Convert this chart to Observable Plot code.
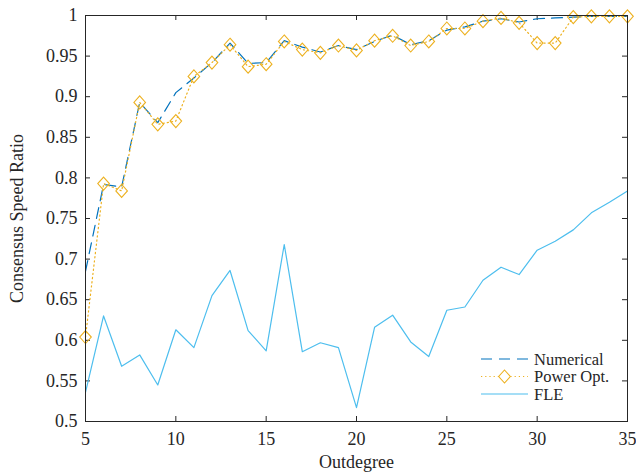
<!DOCTYPE html>
<html>
<head>
<meta charset="utf-8">
<script src="https://cdn.jsdelivr.net/npm/d3@7"></script>
<script src="https://cdn.jsdelivr.net/npm/@observablehq/plot@0.6"></script>
<style>
  html, body { margin: 0; padding: 0; background: white; }
  #wrap { position: relative; width: 636px; height: 472px; font-family: "Liberation Serif", "Times New Roman", serif; }
  #legend { position: absolute; left: 470px; top: 345px; }
</style>
</head>
<body>
<div id="wrap"></div>
<script>
const outdegree = [5,6,7,8,9,10,11,12,13,14,15,16,17,18,19,20,21,22,23,24,25,26,27,28,29,30,31,32,33,34,35];
const numerical = [0.685,0.792,0.789,0.893,0.868,0.905,0.923,0.942,0.966,0.941,0.942,0.969,0.961,0.955,0.963,0.958,0.968,0.976,0.964,0.969,0.982,0.986,0.993,0.996,0.992,0.996,0.997,0.998,0.999,0.999,0.999];
const powerOpt = [0.604,0.793,0.784,0.893,0.866,0.870,0.925,0.942,0.964,0.937,0.940,0.968,0.958,0.954,0.963,0.957,0.969,0.975,0.963,0.968,0.984,0.984,0.993,0.997,0.991,0.966,0.966,0.998,0.999,0.999,0.999];
const fle = [0.536,0.630,0.568,0.582,0.545,0.613,0.591,0.655,0.686,0.612,0.587,0.718,0.586,0.597,0.591,0.517,0.616,0.631,0.598,0.580,0.637,0.641,0.674,0.690,0.681,0.711,0.722,0.736,0.757,0.770,0.784];
const seriesNames = ["Numerical", "Power Opt.", "FLE"];
const xTicks = [5,10,15,20,25,30,35];
const yTicks = [0.5,0.55,0.6,0.65,0.7,0.75,0.8,0.85,0.9,0.95,1];

const colors = {num: "#0072BD", pow: "#EDB120", fle: "#4DBEEE"};
const axisColor = "#262626";

const W = 636, H = 472, mL = 85, mR = 9, mT = 15, mB = 51;
const frameW = W - mL - mR, frameH = H - mT - mB, tick = 5;

const rows = (ys) => outdegree.map((x, i) => ({x, y: ys[i]}));

const diamond = {
  draw(context, size) {
    const r = Math.sqrt(size / Math.PI);
    context.moveTo(0, -r * 1.12);
    context.lineTo(r, 0);
    context.lineTo(0, r * 1.12);
    context.lineTo(-r, 0);
    context.closePath();
  }
};

const chart = Plot.plot({
  width: W, height: H,
  marginLeft: mL, marginRight: mR, marginTop: mT, marginBottom: mB,
  style: {fontFamily: "Liberation Serif, Times New Roman, serif", fontSize: "18px", color: axisColor, background: "white"},
  x: {domain: [5, 35]},
  y: {domain: [0.5, 1]},
  marks: [
    Plot.ruleX(xTicks, {x: d => d, insetTop: frameH - tick, stroke: axisColor}),
    Plot.ruleX(xTicks, {x: d => d, insetBottom: frameH - tick, stroke: axisColor}),
    Plot.ruleY(yTicks, {y: d => d, insetRight: frameW - tick, stroke: axisColor}),
    Plot.ruleY(yTicks, {y: d => d, insetLeft: frameW - tick, stroke: axisColor}),
    Plot.axisX(xTicks, {tickSize: 0, tickPadding: 11, fontSize: 18, label: "Outdegree", labelAnchor: "center", labelArrow: "none", labelOffset: 46, tickFormat: d => String(d)}),
    Plot.axisY(yTicks, {tickSize: 0, tickPadding: 8, fontSize: 18, label: "Consensus Speed Ratio", labelAnchor: "center", labelArrow: "none", labelOffset: 75, tickFormat: d => String(d)}),
    Plot.line(rows(numerical), {x: "x", y: "y", stroke: colors.num, strokeWidth: 1.2, strokeDasharray: "11,7"}),
    Plot.line(rows(powerOpt), {x: "x", y: "y", stroke: colors.pow, strokeWidth: 1.2, strokeDasharray: "1.2,3"}),
    Plot.dot(rows(powerOpt), {x: "x", y: "y", stroke: colors.pow, fill: "none", strokeWidth: 1.1, r: 5.8, symbol: diamond}),
    Plot.line(rows(fle), {x: "x", y: "y", stroke: colors.fle, strokeWidth: 1.2}),
    Plot.frame({stroke: axisColor, strokeWidth: 1})
  ]
});

const wrap = document.getElementById("wrap");
wrap.appendChild(chart);

// Legend (inside plot area, bottom right, no box)
const ns = "http://www.w3.org/2000/svg";
const lg = document.createElementNS(ns, "svg");
lg.setAttribute("id", "legend");
lg.setAttribute("width", 160);
lg.setAttribute("height", 62);
const styles = [
  {stroke: colors.num, dash: "11,7", marker: false},
  {stroke: colors.pow, dash: "1.2,3", marker: true},
  {stroke: colors.fle, dash: null, marker: false}
];
seriesNames.forEach((name, i) => {
  const cy = 14 + i * 17.5;
  const s = styles[i];
  const line = document.createElementNS(ns, "line");
  line.setAttribute("x1", 11); line.setAttribute("x2", 58);
  line.setAttribute("y1", cy); line.setAttribute("y2", cy);
  line.setAttribute("stroke", s.stroke);
  line.setAttribute("stroke-width", 1.2);
  if (s.dash) line.setAttribute("stroke-dasharray", s.dash);
  lg.appendChild(line);
  if (s.marker) {
    const p = document.createElementNS(ns, "path");
    const cx = 34.5, r = 5.8;
    p.setAttribute("d", `M${cx},${cy - r * 1.12}L${cx + r},${cy}L${cx},${cy + r * 1.12}L${cx - r},${cy}Z`);
    p.setAttribute("fill", "white");
    p.setAttribute("stroke", s.stroke);
    p.setAttribute("stroke-width", 1.1);
    lg.appendChild(p);
  }
  const t = document.createElementNS(ns, "text");
  t.setAttribute("x", 64);
  t.setAttribute("y", cy);
  t.setAttribute("dy", "0.35em");
  t.setAttribute("font-family", "Liberation Serif, Times New Roman, serif");
  t.setAttribute("font-size", 16.5);
  t.setAttribute("fill", axisColor);
  t.textContent = name;
  lg.appendChild(t);
});
wrap.appendChild(lg);
</script>
</body>
</html>
